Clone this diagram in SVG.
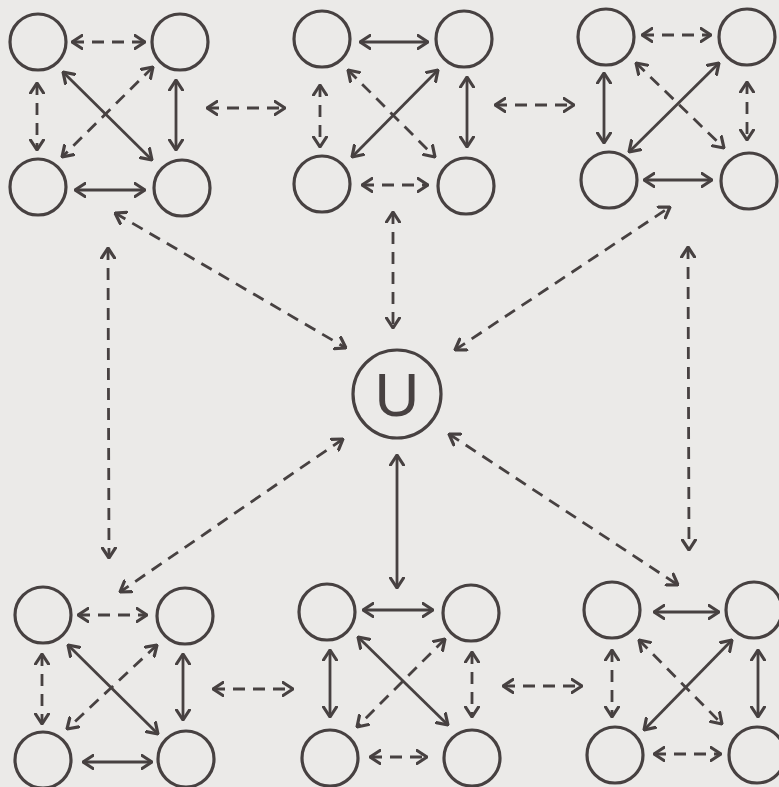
<svg xmlns="http://www.w3.org/2000/svg" width="779" height="787" viewBox="0 0 779 787">
<style>
.bg{fill:#ebeae8}
.n{fill:none;stroke:#474141;stroke-width:3.2}
.s{fill:none;stroke:#474141;stroke-width:2.8;marker-start:url(#ah);marker-end:url(#ah)}
.d{fill:none;stroke:#474141;stroke-width:2.8;stroke-dasharray:12 8;marker-start:url(#ah);marker-end:url(#ah)}
.t{font-family:"Liberation Sans",Arial,sans-serif;font-size:62px;fill:#474141}
</style>
<defs>
<marker id="ah" viewBox="0 0 12 16" refX="11" refY="8" markerWidth="12" markerHeight="16" markerUnits="userSpaceOnUse" orient="auto-start-reverse">
<path d="M1,1.5 L11,8 L1,14.5" fill="none" stroke="#474141" stroke-width="3.2" stroke-dasharray="none" stroke-linecap="round" stroke-linejoin="round"/>
</marker>
</defs>
<rect class="bg" x="0" y="0" width="779" height="787"/>
<g id="connectors">
<!-- cluster A -->
<line class="d" x1="72" y1="42" x2="145" y2="42"/>
<line class="d" x1="37" y1="83" x2="37" y2="150"/>
<line class="s" x1="176" y1="80" x2="176" y2="150"/>
<line class="s" x1="63" y1="72" x2="152" y2="160"/>
<line class="d" x1="153" y1="67" x2="62" y2="157"/>
<line class="s" x1="75" y1="190" x2="145" y2="190"/>
<!-- cluster B -->
<line class="s" x1="360" y1="42" x2="428" y2="42"/>
<line class="d" x1="320" y1="85" x2="320" y2="147"/>
<line class="s" x1="467" y1="77" x2="467" y2="147"/>
<line class="d" x1="348" y1="70" x2="435" y2="157"/>
<line class="s" x1="438" y1="70" x2="352" y2="157"/>
<line class="d" x1="362" y1="185" x2="428" y2="185"/>
<!-- cluster C -->
<line class="d" x1="642" y1="35" x2="711" y2="35"/>
<line class="s" x1="604" y1="73" x2="604" y2="143"/>
<line class="d" x1="747" y1="82" x2="747" y2="140"/>
<line class="d" x1="636" y1="63" x2="724" y2="148"/>
<line class="s" x1="719" y1="63" x2="629" y2="152"/>
<line class="s" x1="644" y1="180" x2="712" y2="180"/>
<!-- cluster D -->
<line class="d" x1="78" y1="615" x2="147" y2="615"/>
<line class="d" x1="42" y1="654" x2="42" y2="724"/>
<line class="s" x1="183" y1="654" x2="183" y2="720"/>
<line class="s" x1="68" y1="645" x2="158" y2="734"/>
<line class="d" x1="157" y1="645" x2="67" y2="729"/>
<line class="s" x1="83" y1="762" x2="152" y2="762"/>
<!-- cluster E -->
<line class="s" x1="363" y1="610" x2="433" y2="610"/>
<line class="s" x1="330" y1="650" x2="330" y2="717"/>
<line class="d" x1="472" y1="652" x2="472" y2="717"/>
<line class="s" x1="358" y1="637" x2="448" y2="725"/>
<line class="d" x1="445" y1="639" x2="357" y2="727"/>
<line class="d" x1="370" y1="757" x2="427" y2="757"/>
<!-- cluster F -->
<line class="s" x1="654" y1="612" x2="719" y2="612"/>
<line class="d" x1="612" y1="650" x2="612" y2="717"/>
<line class="s" x1="758" y1="650" x2="758" y2="717"/>
<line class="d" x1="639" y1="640" x2="722" y2="724"/>
<line class="s" x1="732" y1="640" x2="644" y2="730"/>
<line class="d" x1="654" y1="754" x2="721" y2="754"/>
<!-- between clusters and U -->
<line class="d" x1="207" y1="108" x2="285" y2="108"/>
<line class="d" x1="495" y1="105" x2="574" y2="105"/>
<line class="d" x1="213" y1="689" x2="293" y2="689"/>
<line class="d" x1="503" y1="686" x2="582" y2="686"/>
<line class="d" x1="115" y1="213" x2="346" y2="348"/>
<line class="d" x1="108" y1="248" x2="109" y2="558"/>
<line class="d" x1="393" y1="212" x2="393" y2="328"/>
<line class="d" x1="455" y1="350" x2="670" y2="207"/>
<line class="d" x1="688" y1="247" x2="689" y2="550"/>
<line class="d" x1="343" y1="439" x2="120" y2="592"/>
<line class="d" x1="449" y1="434" x2="678" y2="585"/>
<line class="s" x1="397" y1="455" x2="397" y2="588"/>
</g>
<g id="a1"><circle class="n" cx="38" cy="42" r="28"/></g>
<g id="a2"><circle class="n" cx="180" cy="42" r="28"/></g>
<g id="a3"><circle class="n" cx="38" cy="187" r="28"/></g>
<g id="a4"><circle class="n" cx="182" cy="188" r="28"/></g>
<g id="b1"><circle class="n" cx="322" cy="39" r="28"/></g>
<g id="b2"><circle class="n" cx="464" cy="39" r="28"/></g>
<g id="b3"><circle class="n" cx="322" cy="184" r="28"/></g>
<g id="b4"><circle class="n" cx="466" cy="186" r="28"/></g>
<g id="c1"><circle class="n" cx="606" cy="37" r="28"/></g>
<g id="c2"><circle class="n" cx="747" cy="37" r="28"/></g>
<g id="c3"><circle class="n" cx="609" cy="180" r="28"/></g>
<g id="c4"><circle class="n" cx="749" cy="181" r="28"/></g>
<g id="d1"><circle class="n" cx="43" cy="615" r="28"/></g>
<g id="d2"><circle class="n" cx="185" cy="616" r="28"/></g>
<g id="d3"><circle class="n" cx="43" cy="760" r="28"/></g>
<g id="d4"><circle class="n" cx="186" cy="759" r="28"/></g>
<g id="e1"><circle class="n" cx="327" cy="612" r="28"/></g>
<g id="e2"><circle class="n" cx="471" cy="613" r="28"/></g>
<g id="e3"><circle class="n" cx="330" cy="758" r="28"/></g>
<g id="e4"><circle class="n" cx="472" cy="758" r="28"/></g>
<g id="f1"><circle class="n" cx="612" cy="610" r="28"/></g>
<g id="f2"><circle class="n" cx="754" cy="610" r="28"/></g>
<g id="f3"><circle class="n" cx="615" cy="755" r="28"/></g>
<g id="f4"><circle class="n" cx="757" cy="755" r="28"/></g>
<g id="u"><circle class="n" cx="397" cy="394" r="44"/><text class="t" x="397" y="416" text-anchor="middle">U</text></g>
</svg>
